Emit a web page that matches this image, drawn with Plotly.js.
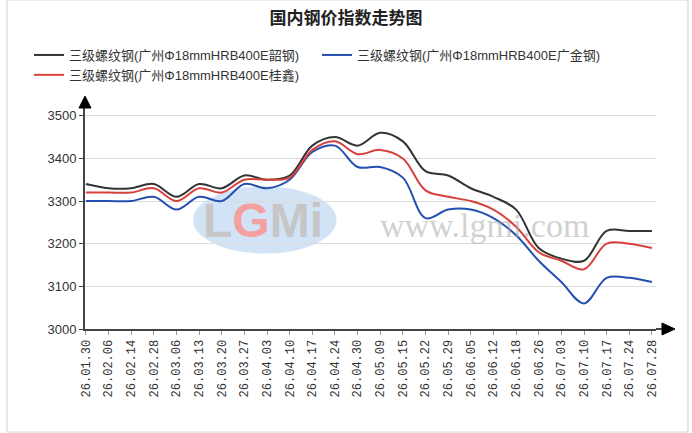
<!DOCTYPE html>
<html>
<head>
<meta charset="utf-8">
<script src="https://cdn.plot.ly/plotly-3.0.1.min.js"></script>
<style>
  html, body { margin: 0; padding: 0; background: #fff; }
  #chart { width: 692px; height: 433px; }
</style>
</head>
<body>
<div id="chart"></div>
<script>
// weekly dates on the x axis
var dates = ['26.01.30', '26.02.06', '26.02.14', '26.02.28', '26.03.06', '26.03.13', '26.03.20',
  '26.03.27', '26.04.03', '26.04.10', '26.04.17', '26.04.24', '26.04.30', '26.05.09', '26.05.15',
  '26.05.22', '26.05.29', '26.06.05', '26.06.12', '26.06.18', '26.06.26', '26.07.03', '26.07.10',
  '26.07.17', '26.07.24', '26.07.28'];

// index values
var shaogang = [3340, 3330, 3330, 3340, 3310, 3340, 3330, 3360, 3350, 3360, 3430, 3450, 3430,
  3460, 3440, 3370, 3360, 3330, 3310, 3280, 3190, 3165, 3160, 3230, 3230, 3230];
var guangjin = [3300, 3300, 3300, 3310, 3280, 3310, 3300, 3340, 3330, 3350, 3415, 3430, 3380,
  3380, 3355, 3260, 3280, 3280, 3260, 3220, 3160, 3110, 3060, 3120, 3120, 3110];
var guixin = [3320, 3320, 3320, 3330, 3300, 3330, 3320, 3350, 3350, 3355, 3420, 3440, 3410,
  3420, 3400, 3325, 3310, 3300, 3280, 3240, 3180, 3160, 3140, 3200, 3200, 3190];

var names = ['三级螺纹钢(广州Φ18mmHRB400E韶钢)', '三级螺纹钢(广州Φ18mmHRB400E广金钢)', '三级螺纹钢(广州Φ18mmHRB400E桂鑫)'];
var colors = ['#333333', '#2350b0', '#d8403c'];

var fontFam = 'Arial, "Liberation Sans", "Noto Sans CJK SC", sans-serif';

function line(y, i) {
  return {
    x: dates, y: y, name: names[i], type: 'scatter', mode: 'lines',
    line: { color: colors[i], width: 2, shape: 'spline', smoothing: 1 },
    hoverinfo: 'skip'
  };
}

var data = [line(shaogang, 0), line(guangjin, 1), line(guixin, 2)];
// first legend entry a bit narrower so the second one starts where it does in the original
data[0].legendwidth = 236;

var layout = {
  width: 692,
  height: 433,
  margin: { l: 85, r: 36, t: 100, b: 104 },
  paper_bgcolor: '#fff',
  plot_bgcolor: '#fff',
  font: { family: fontFam, size: 13, color: '#333' },
  showlegend: true,
  title: {
    text: '国内钢价指数走势图',
    x: 0.5, xanchor: 'center', y: 0.958, yanchor: 'middle',
    font: { family: fontFam, size: 17, color: '#222', weight: 'bold' }
  },
  legend: {
    orientation: 'h', x: -0.098, xanchor: 'left', y: 1.262, yanchor: 'top',
    font: { family: fontFam, size: 13, color: '#333' },
    itemwidth: 30, tracegroupgap: 0, bgcolor: 'rgba(0,0,0,0)'
  },
  xaxis: {
    type: 'category',
    range: [-0.04, 25.18],
    showgrid: false, zeroline: false,
    showline: true, linecolor: '#444', linewidth: 2,
    ticks: 'outside', ticklen: 4, tickcolor: '#999', tickwidth: 1,
    tickangle: -90,
    tickfont: { family: '"Liberation Mono", "DejaVu Sans Mono", monospace', size: 12, color: '#333' }
  },
  yaxis: {
    range: [3000, 3537],
    tickvals: [3000, 3100, 3200, 3300, 3400, 3500],
    showgrid: true, gridcolor: '#dcdcdc', gridwidth: 1,
    zeroline: false,
    showline: true, linecolor: '#444', linewidth: 2,
    ticks: 'outside', ticklen: 4, tickcolor: '#444',
    tickfont: { family: fontFam, size: 13, color: '#333' }
  },
  shapes: [
    // outer frame
    { type: 'rect', xref: 'paper', yref: 'paper', x0: -0.1366, x1: 1.056, y0: -0.45, y1: 1.437,
      line: { color: '#d4d4d4', width: 1 }, layer: 'below' },
    // watermark ellipse
    { type: 'circle', xref: 'paper', yref: 'paper', x0: 0.187, x1: 0.443, y0: 0.323, y1: 0.629,
      fillcolor: 'rgba(180,208,238,0.6)', line: { color: 'rgba(255,255,255,0.9)', width: 3 }, layer: 'below' },
    // x axis extension and arrow
    { type: 'line', xref: 'paper', yref: 'paper', x0: 1, x1: 1.015, y0: 0, y1: 0,
      line: { color: '#444', width: 2 } },
    { type: 'path', xref: 'paper', yref: 'paper',
      path: 'M 1.0105 0.026 L 1.0333 0 L 1.0105 -0.026 Z', fillcolor: '#000', line: { color: '#000', width: 1 } },
    // y axis arrow
    { type: 'path', xref: 'paper', yref: 'paper',
      path: 'M -0.0105 0.965 L 0 1.017 L 0.0105 0.965 Z', fillcolor: '#000', line: { color: '#000', width: 1 } }
  ],
  annotations: [
    { xref: 'paper', yref: 'paper', x: 0.312, y: 0.475, xanchor: 'center', yanchor: 'middle', showarrow: false,
      text: '<b><span style="color:#c6c6c6">L</span><span style="color:#f4a0a0">G</span><span style="color:#c6c6c6">Mi</span></b>',
      font: { family: fontFam, size: 48 } },
    { xref: 'paper', yref: 'paper', x: 0.70, y: 0.454, xanchor: 'center', yanchor: 'middle', showarrow: false,
      text: 'www.lgmi.com',
      font: { family: '"Liberation Serif", "DejaVu Serif", serif', size: 34, color: 'rgba(170,170,170,0.55)' } }
  ]
};

Plotly.newPlot('chart', data, layout, { staticPlot: true, displayModeBar: false });
</script>
</body>
</html>
